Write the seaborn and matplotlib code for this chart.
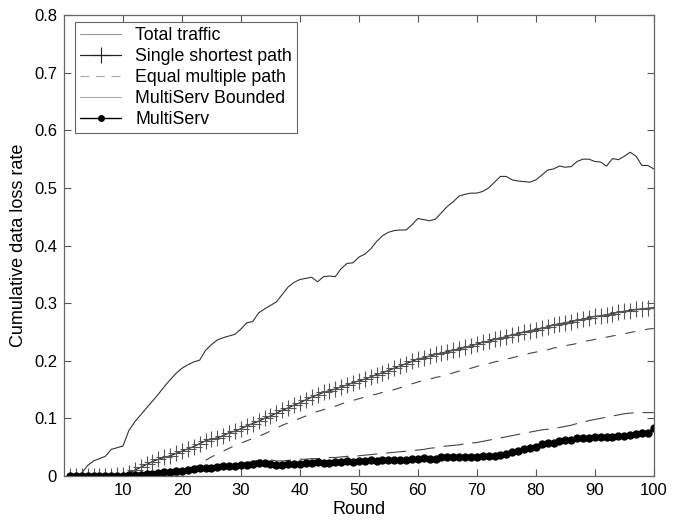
import numpy as np
import pandas as pd
import matplotlib
matplotlib.use("Agg")
import matplotlib.pyplot as plt
from matplotlib.lines import Line2D
import seaborn as sns

rounds = list(range(1, 101))

total_traffic = [
    0.000, 0.000, 0.005, 0.018, 0.026, 0.030, 0.034, 0.046, 0.049, 0.052,
    0.079, 0.094, 0.106, 0.118, 0.130, 0.142, 0.155, 0.167, 0.178, 0.187,
    0.193, 0.198, 0.201, 0.218, 0.228, 0.236, 0.240, 0.243, 0.246, 0.255,
    0.266, 0.268, 0.283, 0.290, 0.296, 0.302, 0.315, 0.328, 0.336, 0.341,
    0.343, 0.345, 0.337, 0.346, 0.347, 0.346, 0.360, 0.369, 0.370, 0.380,
    0.385, 0.394, 0.407, 0.417, 0.423, 0.426, 0.427, 0.427, 0.436, 0.447,
    0.445, 0.443, 0.446, 0.457, 0.468, 0.476, 0.486, 0.489, 0.491, 0.491,
    0.494, 0.500, 0.510, 0.520, 0.520, 0.514, 0.512, 0.511, 0.510, 0.514,
    0.522, 0.531, 0.533, 0.538, 0.536, 0.537, 0.546, 0.550, 0.550, 0.546,
    0.545, 0.538, 0.551, 0.549, 0.555, 0.562, 0.555, 0.539, 0.539, 0.533,
]

single_shortest = [
    0.000, 0.000, 0.000, 0.000, 0.000, 0.000, 0.000, 0.000, 0.001, 0.002,
    0.005, 0.010, 0.015, 0.020, 0.025, 0.029, 0.032, 0.035, 0.039, 0.043,
    0.047, 0.051, 0.056, 0.061, 0.064, 0.066, 0.070, 0.075, 0.078, 0.082,
    0.087, 0.091, 0.095, 0.100, 0.104, 0.109, 0.114, 0.118, 0.123, 0.127,
    0.132, 0.137, 0.141, 0.145, 0.148, 0.151, 0.155, 0.158, 0.162, 0.165,
    0.168, 0.172, 0.176, 0.179, 0.183, 0.187, 0.191, 0.195, 0.199, 0.203,
    0.205, 0.208, 0.211, 0.213, 0.216, 0.218, 0.221, 0.223, 0.226, 0.229,
    0.232, 0.234, 0.237, 0.239, 0.242, 0.245, 0.247, 0.250, 0.252, 0.254,
    0.256, 0.259, 0.262, 0.264, 0.266, 0.268, 0.270, 0.272, 0.275, 0.277,
    0.278, 0.280, 0.282, 0.284, 0.286, 0.287, 0.289, 0.290, 0.291, 0.292,
]

equal_multiple = [
    0.000, 0.000, 0.000, 0.000, 0.000, 0.000, 0.000, 0.000, 0.000, 0.000,
    0.000, 0.000, 0.000, 0.000, 0.000, 0.000, 0.000, 0.000, 0.000, 0.003,
    0.008, 0.014, 0.021, 0.027, 0.033, 0.038, 0.043, 0.048, 0.053, 0.057,
    0.061, 0.065, 0.069, 0.073, 0.078, 0.083, 0.088, 0.092, 0.096, 0.100,
    0.104, 0.108, 0.112, 0.115, 0.118, 0.121, 0.125, 0.128, 0.131, 0.134,
    0.137, 0.140, 0.142, 0.145, 0.147, 0.150, 0.153, 0.157, 0.160, 0.163,
    0.166, 0.168, 0.171, 0.173, 0.176, 0.179, 0.182, 0.184, 0.187, 0.190,
    0.193, 0.195, 0.198, 0.200, 0.203, 0.205, 0.208, 0.210, 0.213, 0.215,
    0.217, 0.219, 0.222, 0.224, 0.226, 0.228, 0.230, 0.233, 0.235, 0.237,
    0.239, 0.241, 0.243, 0.245, 0.247, 0.249, 0.251, 0.253, 0.255, 0.256,
]

multiserv_bounded = [
    0.000, 0.000, 0.000, 0.000, 0.000, 0.000, 0.000, 0.000, 0.000, 0.000,
    0.001, 0.002, 0.003, 0.004, 0.005, 0.006, 0.007, 0.008, 0.009, 0.010,
    0.011, 0.012, 0.013, 0.015, 0.016, 0.017, 0.018, 0.019, 0.020, 0.021,
    0.023, 0.025, 0.027, 0.028, 0.028, 0.026, 0.026, 0.027, 0.028, 0.029,
    0.029, 0.030, 0.030, 0.031, 0.032, 0.032, 0.033, 0.034, 0.034, 0.035,
    0.036, 0.037, 0.038, 0.039, 0.040, 0.041, 0.042, 0.043, 0.044, 0.045,
    0.046, 0.048, 0.049, 0.051, 0.052, 0.053, 0.054, 0.056, 0.057, 0.058,
    0.060, 0.062, 0.064, 0.066, 0.068, 0.070, 0.072, 0.074, 0.076, 0.078,
    0.080, 0.081, 0.083, 0.084, 0.086, 0.088, 0.091, 0.093, 0.096, 0.098,
    0.100, 0.102, 0.104, 0.106, 0.108, 0.109, 0.110, 0.110, 0.110, 0.110,
]

multiserv = [
    0.000, 0.000, 0.000, 0.000, 0.000, 0.000, 0.000, 0.000, 0.000, 0.000,
    0.001, 0.002, 0.002, 0.003, 0.004, 0.005, 0.006, 0.006, 0.008, 0.009,
    0.010, 0.012, 0.013, 0.014, 0.014, 0.015, 0.017, 0.018, 0.018, 0.019,
    0.019, 0.020, 0.022, 0.023, 0.021, 0.019, 0.019, 0.020, 0.020, 0.021,
    0.022, 0.023, 0.024, 0.023, 0.023, 0.025, 0.025, 0.026, 0.024, 0.026,
    0.026, 0.027, 0.026, 0.027, 0.028, 0.028, 0.028, 0.028, 0.030, 0.030,
    0.031, 0.030, 0.030, 0.032, 0.032, 0.032, 0.033, 0.033, 0.033, 0.033,
    0.035, 0.035, 0.034, 0.036, 0.038, 0.041, 0.044, 0.046, 0.048, 0.050,
    0.055, 0.057, 0.058, 0.060, 0.063, 0.063, 0.065, 0.066, 0.066, 0.068,
    0.068, 0.068, 0.067, 0.069, 0.069, 0.071, 0.072, 0.074, 0.074, 0.084,
]

series_labels = ["Total traffic", "Single shortest path", "Equal multiple path",
                 "MultiServ Bounded", "MultiServ"]
x_ticks = [10, 20, 30, 40, 50, 60, 70, 80, 90, 100]
y_ticks = [0, 0.1, 0.2, 0.3, 0.4, 0.5, 0.6, 0.7, 0.8]
y_tick_labels = ["0", "0.1", "0.2", "0.3", "0.4", "0.5", "0.6", "0.7", "0.8"]

sns.set_theme(style="white")
plt.rcParams["font.family"] = ["Liberation Sans", "DejaVu Sans"]
plt.rcParams["font.size"] = 12
plt.rcParams["text.color"] = "black"
plt.rcParams["axes.labelcolor"] = "black"

fig = plt.figure(figsize=(6.81, 5.23), dpi=100)
ax = fig.add_axes([0.094, 0.090, 0.866, 0.881])

sns.lineplot(x=rounds, y=total_traffic, ax=ax, color="#333333", lw=0.8)
sns.lineplot(x=rounds, y=single_shortest, ax=ax, color="#222222", lw=0.9,
             marker="+", markersize=11, markeredgewidth=0.8,
             markeredgecolor="#555555")
sns.lineplot(x=rounds, y=equal_multiple, ax=ax, color="#444444", lw=0.8,
             linestyle=(0, (9, 9)))
sns.lineplot(x=rounds, y=multiserv_bounded, ax=ax, color="#444444", lw=0.8,
             linestyle=(0, (18, 8)))
sns.lineplot(x=rounds, y=multiserv, ax=ax, color="black", lw=1.0,
             marker="o", markersize=6, markeredgewidth=0)

ax.set_xlim(0, 100)
ax.set_ylim(0, 0.8)
ax.set_xticks(x_ticks)
ax.set_xticklabels([str(t) for t in x_ticks])
ax.set_yticks(y_ticks)
ax.set_yticklabels(y_tick_labels)
ax.tick_params(direction="in", length=5, width=0.8, color="#555555",
               top=True, right=True, bottom=True, left=True,
               labelsize=12, labelcolor="black", pad=5)
for side in ax.spines.values():
    side.set_visible(True)
    side.set_color("#666666")
    side.set_linewidth(0.9)

ax.set_xlabel("Round", fontsize=13, labelpad=2, color="black")
ax.set_ylabel("Cumulative data loss rate", fontsize=13, labelpad=5, color="black")

# Legend keys drawn as separate proxy lines
legend_keys = [
    Line2D([], [], color="#999999", lw=0.8),
    Line2D([], [], color="#222222", lw=0.9, marker="+", markersize=11,
           markeredgewidth=0.8),
    Line2D([], [], color="#aaaaaa", lw=0.8, linestyle=(0, (8, 6))),
    Line2D([], [], color="#aaaaaa", lw=0.8),
    Line2D([], [], color="black", lw=1.0, marker="o", markersize=5,
           markeredgewidth=0),
]
leg = ax.legend(legend_keys, series_labels, loc="upper left",
                bbox_to_anchor=(0.0185, 0.985),
                fancybox=False, framealpha=1, edgecolor="#666666",
                fontsize=12.8, handlelength=2.3, handletextpad=0.8,
                borderpad=0.3, labelspacing=0.22, borderaxespad=0)
leg.get_frame().set_linewidth(0.8)
for txt in leg.get_texts():
    txt.set_color("black")

fig.savefig("out.png", dpi=100)
